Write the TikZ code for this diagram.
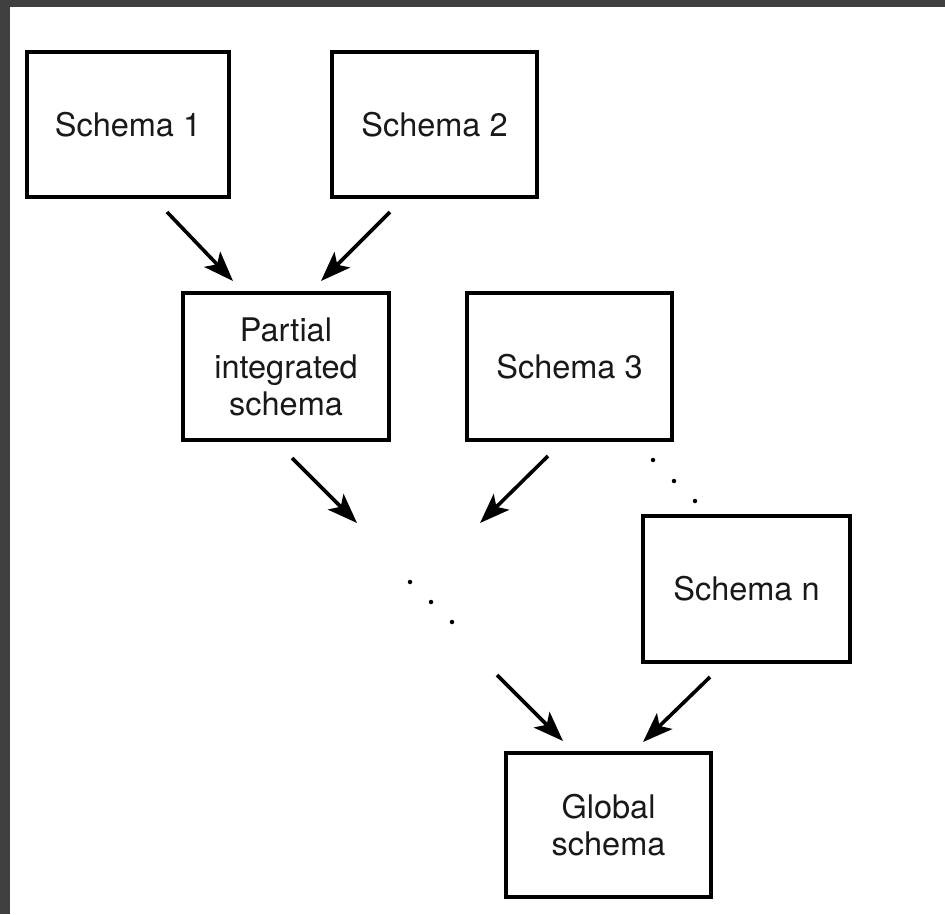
\documentclass[tikz,border=0pt]{standalone}
\usepackage{fontspec}
\setmainfont{TeX Gyre Heros}
\usetikzlibrary{arrows.meta}
\begin{document}
\begin{tikzpicture}[x=1pt,y=-1pt,
  schemabox/.style={draw=black,line width=3.3pt,inner sep=0pt,
    font=\fontsize{32.5}{37}\selectfont,align=center,text=black!90},
  flow/.style={line width=3.6pt,-{Stealth[length=30pt,width=22pt,inset=7pt]}},
  dot/.style={circle,fill=black,inner sep=0pt,minimum size=4.5pt}]
  % page and dark frame
  \useasboundingbox (0,0) rectangle (945,914);
  \fill[black!75] (0,0) rectangle (945,914);
  \fill[white] (10,7) rectangle (945,914);

  % schema boxes
  \node[schemabox,minimum width=202pt,minimum height=145pt] (s1) at (128,124.5) {Schema 1};
  \node[schemabox,minimum width=205pt,minimum height=145pt] (s2) at (434.5,124.5) {Schema 2};
  \node[schemabox,minimum width=206pt,minimum height=147pt] (pis) at (286,366.5) {Partial\\integrated\\schema};
  \node[schemabox,minimum width=205pt,minimum height=147pt] (s3) at (569.5,366.5) {Schema 3};
  \node[schemabox,minimum width=207pt,minimum height=146pt] (sn) at (746.5,589) {Schema n};
  \node[schemabox,minimum width=205pt,minimum height=144pt] (gs) at (608.5,825) {Global\\schema};

  % arrow end points
  \coordinate (a1s) at (167,212);  \coordinate (a1e) at (233,281);
  \coordinate (a2s) at (390,212);  \coordinate (a2e) at (321,281);
  \coordinate (a3s) at (292,458);  \coordinate (a3e) at (357,523);
  \coordinate (a4s) at (548,456);  \coordinate (a4e) at (480,523);
  \coordinate (a5s) at (497,675);  \coordinate (a5e) at (563,741);
  \coordinate (a6s) at (710,677);  \coordinate (a6e) at (643,742);

  \draw[flow] (a1s) -- (a1e);
  \draw[flow] (a2s) -- (a2e);
  \draw[flow] (a3s) -- (a3e);
  \draw[flow] (a4s) -- (a4e);
  \draw[flow] (a5s) -- (a5e);
  \draw[flow] (a6s) -- (a6e);

  % ellipsis dots
  \node[dot] (d1) at (653,460) {};
  \node[dot] (d2) at (674,481) {};
  \node[dot] (d3) at (695,501) {};
  \node[dot] (d4) at (410,582) {};
  \node[dot] (d5) at (431,602) {};
  \node[dot] (d6) at (452,622) {};
\end{tikzpicture}
\end{document}
